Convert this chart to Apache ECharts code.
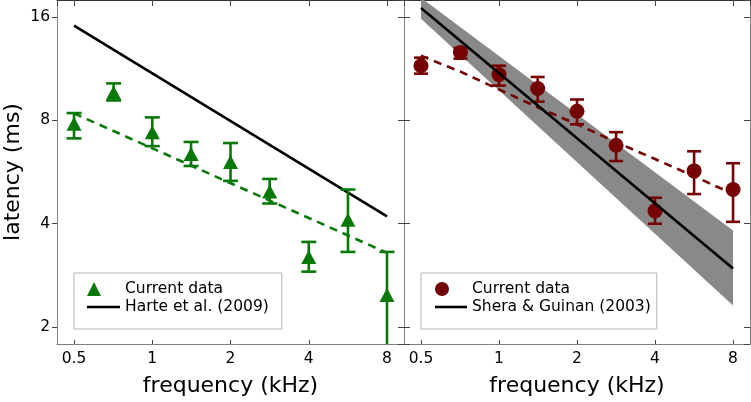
<!DOCTYPE html>
<html>
<head>
<meta charset="utf-8">
<script src="https://cdn.jsdelivr.net/npm/echarts@6/dist/echarts.min.js"></script>
<style>
html,body{margin:0;padding:0;background:#fff;}
#chart{width:751px;height:402px;}
</style>
</head>
<body>
<div id="chart"></div>
<script>
// ---------- data ----------
const freqs = [0.5, 0.71, 1, 1.41, 2, 2.83, 4, 5.66, 8];

// left panel (green triangles)
const leftMean = [7.82, 9.64, 7.39, 6.38, 6.05, 4.96, 3.2, 4.11, 2.48];
const leftLow  = [7.09, 9.14, 6.73, 5.89, 5.33, 4.58, 2.9, 3.31, 1.7];
const leftHigh = [8.4, 10.25, 8.16, 6.92, 6.87, 5.4, 3.54, 5.03, 3.31];
const harteFreq = [0.5, 8];
const harteLat  = [15.1, 4.2];
const leftFitFreq = [0.5, 8];
const leftFitLat  = [8.38, 3.29];

// right panel (dark red circles)
const rightMean = [11.54, 12.6, 10.87, 9.9, 8.5, 6.77, 4.36, 5.7, 5.03];
const rightLow  = [10.94, 12.1, 10.1, 9.07, 7.79, 6.09, 4.0, 4.88, 4.05];
const rightHigh = [12.18, 13.0, 11.54, 10.7, 9.2, 7.39, 4.76, 6.5, 6.0];
const sheraFreq = [0.5, 8];
const sheraLat  = [16.99, 2.96];
const sheraBandLow  = [15.8, 2.31];
const sheraBandHigh = [18.2, 3.82];
const rightFitFreq = [0.5, 0.71, 1, 1.41, 2, 2.83, 4, 5.66, 8];
const rightFitLat  = [12.34, 11.09, 9.84, 8.73, 7.79, 6.91, 6.17, 5.5, 4.88];

// axes
const xTickLabels = [0.5, 1, 2, 4, 8];
const yTickLabels = [2, 4, 8, 16];
const xRange = [0.43, 9.3];
const yRange = [1.785, 17.93];

// ---------- styling ----------
const GREEN = '#087808';
const RED = '#750303';
const FONT = 'DejaVu Sans';
const AXIS_COLOR = '#808080';
const TICK_COLOR = '#444';

const zip = (a, b) => a.map((v, i) => [v, b[i]]);

function fmt(list) {
  return function (v) {
    const r = +(+v).toFixed(3);
    return list.indexOf(r) >= 0 ? String(r) : '';
  };
}

function xAxisPair(grid) {
  return [
    {
      type: 'log', logBase: 2, gridIndex: grid, min: xRange[0], max: xRange[1],
      position: 'bottom',
      axisLine: { show: true, lineStyle: { color: AXIS_COLOR, width: 1 } },
      axisTick: { show: true, inside: true, length: 4, lineStyle: { color: TICK_COLOR } },
      axisLabel: { show: true, formatter: fmt(xTickLabels), fontFamily: FONT, fontSize: 15.5, color: '#000', margin: 7, showMinLabel: false, showMaxLabel: false },
      splitLine: { show: false }, minorTick: { show: false },
      name: 'frequency (kHz)', nameLocation: 'middle', nameGap: 31,
      nameTextStyle: { fontFamily: FONT, fontSize: 22, color: '#000' }
    },
    {
      type: 'log', logBase: 2, gridIndex: grid, min: xRange[0], max: xRange[1],
      position: 'top',
      axisLine: { show: true, lineStyle: { color: '#333', width: 1 } },
      axisTick: { show: true, inside: true, length: 6, lineStyle: { color: TICK_COLOR } },
      axisLabel: { show: false }, splitLine: { show: false }
    }
  ];
}

function yAxisPair(grid, showLabels) {
  return [
    {
      type: 'log', logBase: 2, gridIndex: grid, min: yRange[0], max: yRange[1],
      position: 'left',
      axisLine: { show: true, lineStyle: { color: AXIS_COLOR, width: 1 } },
      axisTick: { show: true, inside: !showLabels, length: showLabels ? 5 : 6, lineStyle: { color: TICK_COLOR } },
      axisLabel: { show: showLabels, formatter: fmt(yTickLabels), fontFamily: FONT, fontSize: 15.5, color: '#000', margin: 7, showMinLabel: false, showMaxLabel: false },
      splitLine: { show: false },
      name: showLabels ? 'latency (ms)' : '', nameLocation: 'middle', nameGap: 33,
      nameTextStyle: { fontFamily: FONT, fontSize: 22, color: '#000' }
    },
    {
      type: 'log', logBase: 2, gridIndex: grid, min: yRange[0], max: yRange[1],
      position: 'right',
      axisLine: { show: true, lineStyle: { color: AXIS_COLOR, width: 1 } },
      axisTick: { show: true, inside: true, length: 6, lineStyle: { color: TICK_COLOR } },
      axisLabel: { show: false }, splitLine: { show: false }
    }
  ];
}

function errorBars(color, hw) {
  return function (params, api) {
    const x = api.value(0), lo = api.value(1), hi = api.value(2);
    const pLo = api.coord([x, lo]);
    const pHi = api.coord([x, hi]);
    const style = { stroke: color, lineWidth: 2.6, fill: null };
    return {
      type: 'group',
      children: [
        { type: 'line', shape: { x1: pLo[0], y1: pLo[1], x2: pHi[0], y2: pHi[1] }, style: style },
        { type: 'line', shape: { x1: pLo[0] - hw, y1: pLo[1], x2: pLo[0] + hw, y2: pLo[1] }, style: style },
        { type: 'line', shape: { x1: pHi[0] - hw, y1: pHi[1], x2: pHi[0] + hw, y2: pHi[1] }, style: style }
      ]
    };
  };
}

function bandItem(params, api) {
  if (params.dataIndex !== 0) return null;
  const pts = [];
  for (let i = 0; i < sheraFreq.length; i++) pts.push(api.coord([sheraFreq[i], sheraBandHigh[i]]));
  for (let i = sheraFreq.length - 1; i >= 0; i--) pts.push(api.coord([sheraFreq[i], sheraBandLow[i]]));
  return { type: 'polygon', shape: { points: pts }, style: { fill: '#898989', stroke: null } };
}

const triIcon = 'path://M0,14L7,0L14,14Z M33,7';
const circIcon = 'path://M0,7A7,7 0 1,1 14,7A7,7 0 1,1 0,7Z M32,7';
const lineIcon = 'path://M0,5.7H33V8.3H0Z M0,0 M0,14';
const lineIcon2 = 'path://M0,5.7H32V8.3H0Z M0,0 M0,14';

const option = {
  animation: false,
  backgroundColor: '#fff',
  grid: [
    { left: 57, top: 0, width: 347, height: 346, show: false },
    { left: 404, top: 0, width: 346, height: 346, show: false }
  ],
  xAxis: [].concat(xAxisPair(0), xAxisPair(1)),
  yAxis: [].concat(yAxisPair(0, true), yAxisPair(1, false)),
  legend: [
    {
      left: 74, top: 273, orient: 'vertical', selectedMode: false,
      padding: [8, 13, 14, 13], itemGap: 2, itemWidth: 33, itemHeight: 14, itemTextGap: 8,
      borderColor: '#b4b4b4', borderWidth: 1, borderRadius: 0, backgroundColor: '#fff',
      textStyle: { fontFamily: FONT, fontSize: 15.5, color: '#000', lineHeight: 16 },
      itemStyle: { borderWidth: 0 },
      data: [
        { name: 'Current data', icon: triIcon, itemStyle: { color: GREEN, borderWidth: 0 } },
        { name: 'Harte et al. (2009)', icon: lineIcon, itemStyle: { color: '#000', borderWidth: 0 } }
      ]
    },
    {
      left: 421, top: 273, orient: 'vertical', selectedMode: false,
      padding: [8, 6, 14, 14], itemGap: 2, itemWidth: 32, itemHeight: 14, itemTextGap: 8,
      borderColor: '#b4b4b4', borderWidth: 1, borderRadius: 0, backgroundColor: '#fff',
      textStyle: { fontFamily: FONT, fontSize: 15.5, color: '#000', lineHeight: 16 },
      itemStyle: { borderWidth: 0 },
      data: [
        { name: 'Current data ', icon: circIcon, itemStyle: { color: RED, borderWidth: 0 } },
        { name: 'Shera & Guinan (2003)', icon: lineIcon2, itemStyle: { color: '#000', borderWidth: 0 } }
      ]
    }
  ],
  series: [
    // ----- left panel -----
    {
      name: 'Harte et al. (2009)', type: 'line', xAxisIndex: 0, yAxisIndex: 0,
      data: zip(harteFreq, harteLat), symbol: 'none', itemStyle: { color: '#000' },
      lineStyle: { color: '#000', width: 2.6 }, z: 3
    },
    {
      name: 'Left fit', type: 'line', xAxisIndex: 0, yAxisIndex: 0,
      data: zip(leftFitFreq, leftFitLat), symbol: 'none',
      lineStyle: { color: GREEN, width: 2.6, type: [8, 6] }, z: 3
    },
    {
      name: 'Left error', type: 'custom', xAxisIndex: 0, yAxisIndex: 0, clip: true,
      renderItem: errorBars(GREEN, 7.5), encode: { x: 0, y: [1, 2] },
      data: freqs.map((f, i) => [f, leftLow[i], leftHigh[i]]), z: 4
    },
    {
      name: 'Current data', type: 'scatter', xAxisIndex: 0, yAxisIndex: 0,
      data: zip(freqs, leftMean), symbol: 'triangle', symbolSize: [15, 14],
      itemStyle: { color: GREEN, opacity: 1 }, z: 5
    },
    // ----- right panel -----
    {
      name: 'Shera band', type: 'custom', xAxisIndex: 2, yAxisIndex: 2, clip: true,
      renderItem: bandItem, encode: { x: 0, y: [1, 2] },
      data: sheraFreq.map((f, i) => [f, sheraBandLow[i], sheraBandHigh[i]]), z: 1
    },
    {
      name: 'Right fit', type: 'line', xAxisIndex: 2, yAxisIndex: 2,
      data: zip(rightFitFreq, rightFitLat), symbol: 'none',
      lineStyle: { color: RED, width: 2.6, type: [8, 6] }, z: 3
    },
    {
      name: 'Right error', type: 'custom', xAxisIndex: 2, yAxisIndex: 2, clip: true,
      renderItem: errorBars(RED, 7), encode: { x: 0, y: [1, 2] },
      data: freqs.map((f, i) => [f, rightLow[i], rightHigh[i]]), z: 4
    },
    {
      name: 'Current data ', type: 'scatter', xAxisIndex: 2, yAxisIndex: 2,
      data: zip(freqs, rightMean), symbol: 'circle', symbolSize: 15,
      itemStyle: { color: RED, opacity: 1 }, z: 5
    },
    {
      name: 'Shera & Guinan (2003)', type: 'line', xAxisIndex: 2, yAxisIndex: 2,
      data: zip(sheraFreq, sheraLat), symbol: 'none', itemStyle: { color: '#000' },
      lineStyle: { color: '#000', width: 2.6 }, z: 6
    }
  ]
};

const chart = echarts.init(document.getElementById('chart'), null, { renderer: 'canvas' });
chart.setOption(option);
</script>
</body>
</html>
